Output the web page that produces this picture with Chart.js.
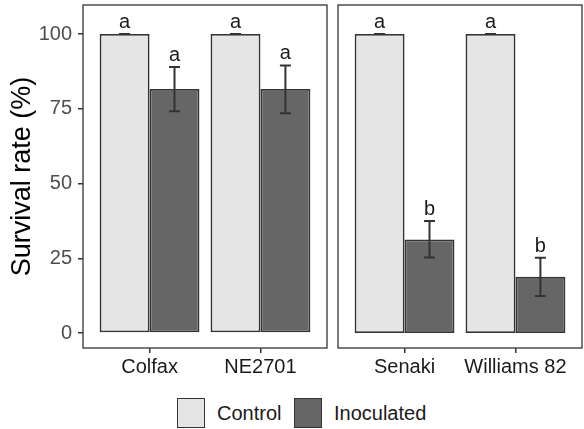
<!DOCTYPE html>
<html><head><meta charset="utf-8">
<script src="https://cdn.jsdelivr.net/npm/chart.js@4"></script>
<style>
html,body{margin:0;padding:0;background:#fff}
body{width:584px;height:429px;position:relative;overflow:hidden;font-family:"Liberation Sans",Arial,sans-serif}
canvas{position:absolute;top:0}
#c1{left:0}
#c2{left:333px}
.lbox{position:absolute;top:398px;width:28px;height:30px;box-sizing:border-box;border:1.5px solid #333}
.ltxt{position:absolute;top:401px;font-size:20px;line-height:24px;color:#1a1a1a}
</style>
</head><body>
<canvas id="c1" width="330" height="390"></canvas>
<canvas id="c2" width="251" height="390"></canvas>
<div class="lbox" style="left:177px;background:#e5e5e5"></div>
<div class="ltxt" style="left:217px">Control</div>
<div class="lbox" style="left:294px;background:#666666"></div>
<div class="ltxt" style="left:334px">Inoculated</div>
<script>
const catsLeft = ['Colfax', 'NE2701'];
const catsRight = ['Senaki', 'Williams 82'];
const controlLeft = [100, 100];
const controlRight = [100, 100];
const controlErrLowLeft = [100, 100];
const controlErrHighLeft = [100, 100];
const controlErrLowRight = [100, 100];
const controlErrHighRight = [100, 100];
const inocLeft = [81.6, 81.6];
const inocRight = [31.3, 18.8];
const inocErrLowLeft = [74.2, 73.5];
const inocErrHighLeft = [89.0, 89.5];
const inocErrLowRight = [25.3, 12.4];
const inocErrHighRight = [37.5, 25.2];
const controlLettersLeft = ['a', 'a'];
const controlLettersRight = ['a', 'a'];
const inocLettersLeft = ['a', 'a'];
const inocLettersRight = ['b', 'b'];
const yTicks = [0, 25, 50, 75, 100];
const seriesNames = ['Control', 'Inoculated'];

const FONT = '"Liberation Sans", Arial, sans-serif';
Chart.defaults.font.family = FONT;

const panelPlugin = {
  id: 'panel',
  afterDatasetsDraw(chart) {
    const ctx = chart.ctx;
    const y = chart.scales.y;
    ctx.save();
    chart.data.datasets.forEach((ds, di) => {
      const meta = chart.getDatasetMeta(di);
      meta.data.forEach((bar, j) => {
        const x = bar.x;
        const yl = y.getPixelForValue(ds.errLow[j]);
        const yh = y.getPixelForValue(ds.errHigh[j]);
        ctx.strokeStyle = '#333333';
        ctx.lineWidth = 2;
        ctx.beginPath();
        ctx.moveTo(x, yl); ctx.lineTo(x, yh);
        ctx.moveTo(x - 5.5, yl); ctx.lineTo(x + 5.5, yl);
        ctx.moveTo(x - 5.5, yh); ctx.lineTo(x + 5.5, yh);
        ctx.stroke();
        ctx.fillStyle = '#1a1a1a';
        ctx.font = '20px ' + FONT;
        ctx.textAlign = 'center';
        ctx.textBaseline = 'alphabetic';
        ctx.fillText(ds.letters[j], x, yh - 6);
      });
    });
    ctx.restore();
  },
  afterDraw(chart) {
    const a = chart.chartArea;
    const ctx = chart.ctx;
    ctx.save();
    ctx.strokeStyle = '#333333';
    ctx.lineWidth = 1.3;
    ctx.strokeRect(a.left, a.top, a.right - a.left, a.bottom - a.top);
    ctx.restore();
  }
};

function zeroPad(s) { s.paddingTop = 0; s.paddingBottom = 0; s.paddingLeft = 0; s.paddingRight = 0; }

function makeChart(id, cats, ctrl, ctrlLo, ctrlHi, inoc, inocLo, inocHi, lettersC, lettersI, showY, padding) {
  return new Chart(document.getElementById(id), {
    type: 'bar',
    data: {
      datasets: [
        { label: seriesNames[0], data: cats.map((c, i) => ({ x: i + 1, y: ctrl[i] })),
          errLow: ctrlLo, errHigh: ctrlHi, letters: lettersC,
          backgroundColor: '#e5e5e5', borderColor: '#333333', borderWidth: 1.8, borderSkipped: false,
          categoryPercentage: 0.9, barPercentage: 1 },
        { label: seriesNames[1], data: cats.map((c, i) => ({ x: i + 1, y: inoc[i] })),
          errLow: inocLo, errHigh: inocHi, letters: lettersI,
          backgroundColor: '#666666', borderColor: '#333333', borderWidth: 1.8, borderSkipped: false,
          categoryPercentage: 0.9, barPercentage: 1 }
      ]
    },
    options: {
      responsive: false,
      animation: false,
      layout: { padding: padding },
      plugins: { legend: { display: false }, tooltip: { enabled: false } },
      scales: {
        x: {
          type: 'linear', min: 0.4, max: 2.6, offset: false,
          afterBuildTicks: s => { s.ticks = cats.map((c, i) => ({ value: i + 1 })); },
          ticks: { callback: (v, i) => cats[i], color: '#1a1a1a', font: { size: 20 }, padding: 2, maxRotation: 0, autoSkip: false },
          grid: { offset: false, drawOnChartArea: false, tickLength: 5, color: '#333333', lineWidth: 1.5 },
          border: { display: false },
          afterFit: s => { s.height = 42; zeroPad(s); }
        },
        y: {
          display: showY, min: -5, max: 109.7,
          afterBuildTicks: s => { s.ticks = yTicks.map(v => ({ value: v })); },
          ticks: { color: '#4d4d4d', font: { size: 20 }, padding: 6 },
          grid: { drawOnChartArea: false, tickLength: 5, color: '#333333', lineWidth: 1.5 },
          border: { display: false },
          title: { display: showY, text: 'Survival rate (%)', color: '#000000', font: { size: 27 }, padding: { top: 6, bottom: 0 } },
          afterFit: s => { if (showY) s.width = 83; zeroPad(s); }
        }
      }
    },
    plugins: [panelPlugin]
  });
}

makeChart('c1', catsLeft, controlLeft, controlErrLowLeft, controlErrHighLeft, inocLeft, inocErrLowLeft, inocErrHighLeft,
  controlLettersLeft, inocLettersLeft, true, { top: 5, right: 3, left: 0, bottom: 0 });
makeChart('c2', catsRight, controlRight, controlErrLowRight, controlErrHighRight, inocRight, inocErrLowRight, inocErrHighRight,
  controlLettersRight, inocLettersRight, false, { top: 5, right: 2, left: 5, bottom: 0 });
</script>
</body></html>
